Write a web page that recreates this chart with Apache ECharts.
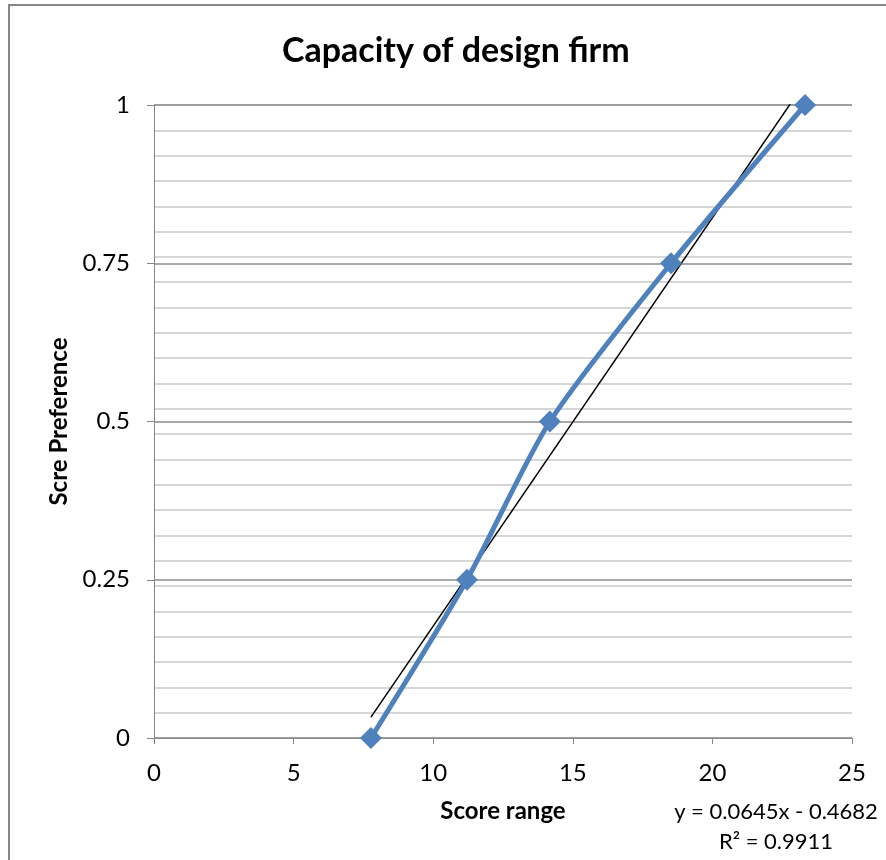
<!DOCTYPE html>
<html>
<head>
<meta charset="utf-8">
<style>
  html, body { margin: 0; padding: 0; background: #ffffff; }
  #chart { width: 886px; height: 860px; }
</style>
<script src="https://cdn.jsdelivr.net/npm/echarts@6/dist/echarts.min.js"></script>
</head>
<body>
<div id="chart"></div>
<script>
// Score range (x) against preference score (y)
var scoreRange = [7.77, 11.21, 14.18, 18.52, 23.32];
var preference = [0, 0.25, 0.5, 0.75, 1];

// Linear trend line coefficients and fit quality
var trendSlope = 0.0645;
var trendIntercept = -0.4682;
var rSquared = 0.9911;

var xTicks = [0, 5, 10, 15, 20, 25];
var yTicks = [0, 0.25, 0.5, 0.75, 1];

var FONT = 'Lato';

var lineData = scoreRange.map(function (x, i) { return [x, preference[i]]; });

var xFirst = Math.min.apply(null, scoreRange);
var xLast = Math.max.apply(null, scoreRange);
var trendData = [
  [xFirst, trendSlope * xFirst + trendIntercept],
  [xLast, trendSlope * xLast + trendIntercept]
];

var chart = echarts.init(document.getElementById('chart'), null, { renderer: 'canvas' });

chart.setOption({
  backgroundColor: '#ffffff',
  animation: false,
  title: {
    text: 'Capacity of design firm',
    left: 277,
    top: 29,
    textStyle: { fontFamily: FONT, fontSize: 34, fontWeight: 'bold', color: '#000000' }
  },
  grid: { left: 154, right: 34, top: 105, bottom: 122 },
  xAxis: {
    type: 'value',
    min: xTicks[0],
    max: xTicks[xTicks.length - 1],
    interval: xTicks[1] - xTicks[0],
    name: 'Score range',
    nameLocation: 'middle',
    nameGap: 61,
    nameTextStyle: { fontFamily: FONT, fontSize: 24, fontWeight: 'bold', color: '#000000' },
    axisLine: { show: true, lineStyle: { color: '#868686', width: 1 } },
    axisTick: { show: true, length: 6, lineStyle: { color: '#868686' } },
    axisLabel: { fontFamily: FONT, fontSize: 24, color: '#000000', margin: 23 },
    splitLine: { show: false }
  },
  yAxis: [
    {
      type: 'value',
      min: yTicks[0],
      max: yTicks[yTicks.length - 1],
      interval: yTicks[1] - yTicks[0],
      z: 2,
      name: 'Scre Preference',
      nameLocation: 'middle',
      nameGap: 80,
      nameTextStyle: { fontFamily: FONT, fontSize: 24, fontWeight: 'bold', color: '#000000' },
      axisLine: { show: true, lineStyle: { color: '#868686', width: 1 } },
      axisTick: { show: true, length: 7, lineStyle: { color: '#868686' } },
      axisLabel: {
        fontFamily: FONT, fontSize: 24, color: '#000000', margin: 24,
        formatter: function (v) { return String(v); }
      },
      splitLine: { show: true, lineStyle: { color: '#8c8c8c', width: 1.5 } }
    },
    {
      // minor gridlines every 0.04
      type: 'value',
      position: 'left',
      min: 0,
      max: 1,
      interval: 0.04,
      z: 0,
      axisLine: { show: false },
      axisTick: { show: false },
      axisLabel: { show: false },
      splitLine: { show: true, lineStyle: { color: '#c9c9c9', width: 1.5 } }
    }
  ],
  graphic: [
    {
      type: 'rect',
      shape: { x: 9, y: 5, width: 900, height: 900 },
      style: { fill: null, stroke: '#868686', lineWidth: 2 },
      silent: true
    },
    {
      type: 'text',
      x: 776,
      y: 812,
      style: {
        text: 'y = ' + trendSlope + 'x - ' + Math.abs(trendIntercept),
        fontFamily: FONT, fontSize: 22, fill: '#000000',
        textAlign: 'center', textVerticalAlign: 'middle'
      }
    },
    {
      type: 'text',
      x: 776,
      y: 842,
      style: {
        text: 'R\u00B2 = ' + rSquared,
        fontFamily: FONT, fontSize: 22, fill: '#000000',
        textAlign: 'center', textVerticalAlign: 'middle'
      }
    }
  ],
  series: [
    {
      name: 'Trend',
      type: 'line',
      data: trendData,
      clip: true,
      symbol: 'none',
      z: 3,
      lineStyle: { color: '#000000', width: 1.5 }
    },
    {
      name: 'Preference',
      type: 'line',
      data: lineData,
      smooth: 0.25,
      symbol: 'diamond',
      symbolSize: 22,
      z: 4,
      itemStyle: { color: '#4f81bd' },
      lineStyle: { color: '#4f81bd', width: 5 }
    }
  ]
});
</script>
</body>
</html>
